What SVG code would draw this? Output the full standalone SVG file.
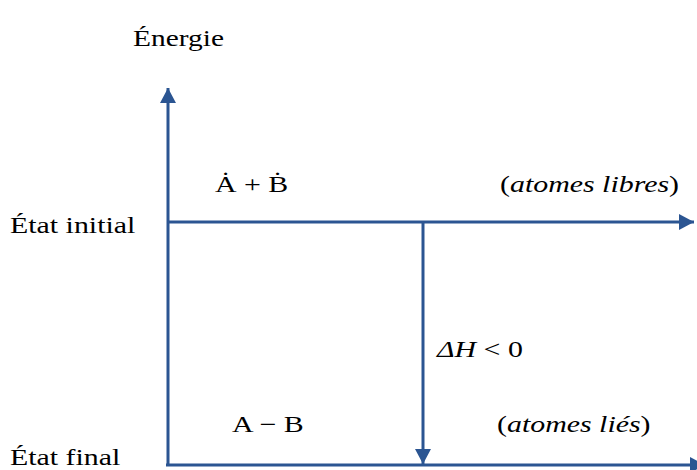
<svg xmlns="http://www.w3.org/2000/svg" width="697" height="470" viewBox="0 0 697 470">
<defs>
<style>
.ln{stroke:#2b5592;stroke-width:3;fill:none}
.t{font-family:"Liberation Serif","Times New Roman",serif;font-size:23px;fill:#000}
.i{font-style:italic}
</style>
<marker id="ah" markerUnits="userSpaceOnUse" markerWidth="16" markerHeight="16" viewBox="0 0 16 16" refX="15" refY="8" orient="auto">
<path d="M0,0 L15,8 L0,16 Z" fill="#2b5592"/>
</marker>
</defs>
<rect width="697" height="470" fill="#fff"/>
<g id="connectors">
<path class="ln" d="M168,466 L168,88" marker-end="url(#ah)"/>
<path class="ln" d="M168,222 L694,222" marker-end="url(#ah)"/>
<path class="ln" d="M166,465 L705,465" marker-end="url(#ah)"/>
<path class="ln" d="M423,222 L423,464" marker-end="url(#ah)"/>
</g>
<g id="energie"><text class="t" transform="translate(133,46) scale(1.28,1)">Énergie</text></g>
<g id="etat-initial"><text class="t" transform="translate(10,233) scale(1.3,1)">État initial</text></g>
<g id="etat-final"><text class="t" transform="translate(10,465) scale(1.3,1)">État final</text></g>
<g id="atomes-libres-formule"><text class="t" transform="translate(215,192) scale(1.3,1)">Ȧ + Ḃ</text></g>
<g id="atomes-libres"><text class="t" transform="translate(500,192) scale(1.3,1)">(<tspan class="i">atomes libres</tspan>)</text></g>
<g id="delta-h"><text class="t" transform="translate(437,357) scale(1.3,1)"><tspan class="i">ΔH</tspan> &lt; 0</text></g>
<g id="atomes-lies-formule"><text class="t" transform="translate(232,432) scale(1.3,1)">A − B</text></g>
<g id="atomes-lies"><text class="t" transform="translate(497,432) scale(1.3,1)">(<tspan class="i">atomes liés</tspan>)</text></g>
</svg>
